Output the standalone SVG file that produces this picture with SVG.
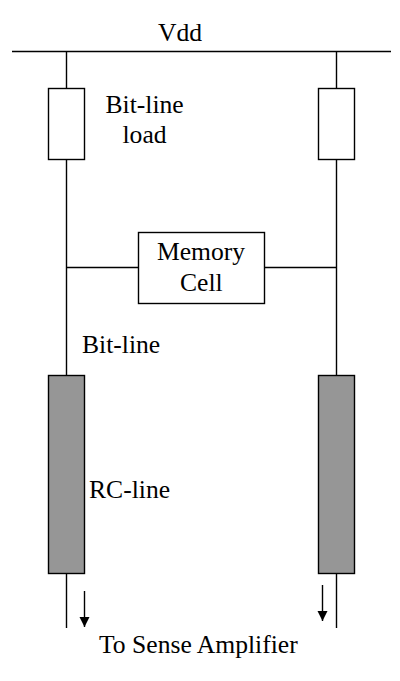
<svg xmlns="http://www.w3.org/2000/svg" width="400" height="681" viewBox="0 0 400 681">
<defs><marker id="a" markerWidth="11" markerHeight="12" refX="10" refY="5.500" orient="auto" markerUnits="userSpaceOnUse"><path d="M0 0.500L10 5.500L0 10.500L0 5.500Z" fill="#000"/></marker></defs>
<style>
.w{stroke:#000;stroke-width:1.4;fill:none}
.b{fill:#fff;stroke:#000;stroke-width:1.4}
.g{fill:#969696;stroke:#000;stroke-width:1.4}
text{font-family:"Liberation Serif","Times New Roman",serif;font-size:25.600px;fill:#000}
</style>
<rect width="400" height="681" fill="#fff"/>
<g id="connectors">
<path class="w" d="M12 51.500H391M66.500 51V628M336.500 51V628M66 267.500H138M265 267.500H337"/>
<path class="w" d="M84.500 591V627" marker-end="url(#a)"/>
<path class="w" d="M322.500 585V621" marker-end="url(#a)"/>
</g>
<g id="vdd"><text x="158" y="41">Vdd</text></g>
<g id="load-left"><rect class="b" x="48.500" y="88.500" width="36" height="71"/></g>
<g id="load-right"><rect class="b" x="318.500" y="88.500" width="36" height="71"/></g>
<g id="bit-line-load"><text x="105.500" y="113">Bit-line</text><text x="122.500" y="143">load</text></g>
<g id="memory-cell"><rect class="b" x="138.500" y="232.500" width="126" height="71"/><text x="157" y="260">Memory</text><text x="180" y="291">Cell</text></g>
<g id="bit-line"><text x="82" y="353">Bit-line</text></g>
<g id="rc-left"><rect class="g" x="48.500" y="375.500" width="36" height="198"/></g>
<g id="rc-right"><rect class="g" x="318.500" y="375.500" width="36" height="198"/></g>
<g id="rc-line"><text x="89" y="498">RC-line</text></g>
<g id="sense"><text x="99" y="653">To Sense Amplifier</text></g>
</svg>
